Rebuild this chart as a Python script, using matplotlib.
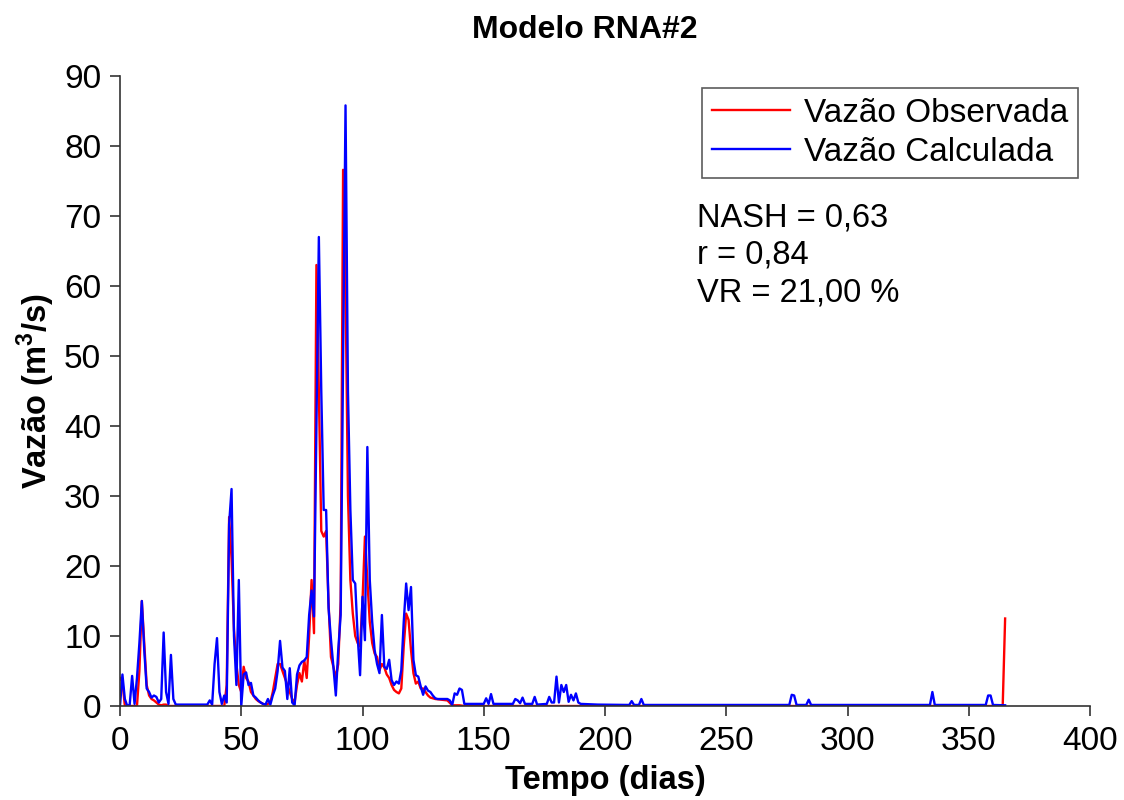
import matplotlib
matplotlib.use("Agg")
import matplotlib.pyplot as plt

plt.rcParams['font.family'] = ['Liberation Sans', 'DejaVu Sans']
plt.rcParams['mathtext.fontset'] = 'custom'
plt.rcParams['mathtext.rm'] = 'Liberation Sans'
plt.rcParams['mathtext.bf'] = 'Liberation Sans:bold'

# Observed flow (day, value)
obs_days = [0, 1, 2, 7, 8, 9, 10, 11, 12, 13, 14, 15, 16, 17, 18, 19, 20, 43, 44, 45, 46, 47, 48, 49,
            50, 51, 52, 53, 54, 55, 56, 57, 58, 59, 60, 61, 62, 63, 64, 65, 66, 67, 68, 69, 70, 71,
            72, 73, 74, 75, 76, 77, 78, 79, 80, 81, 82, 83, 84, 85, 86, 87, 88, 89, 90, 91, 92, 93,
            94, 95, 96, 97, 98, 99, 100, 101, 102, 103, 104, 105, 106, 107, 108, 109, 110, 111, 112,
            113, 114, 115, 116, 117, 118, 119, 120, 121, 122, 123, 124, 125, 126, 127, 128, 130, 135,
            137, 140, 142, 364, 365]
obs_vals = [4.0, 3.5, 0.0, 0.0, 5.0, 15.0, 9.0, 3.0, 1.5, 1.0, 0.8, 0.5, 0.2, 0.1, 0.2, 0.2, 0.0, 0.0,
            3.0, 27.0, 21.0, 10.9, 6.0, 3.0, 2.0, 5.6, 4.0, 3.5, 2.0, 1.5, 1.0, 0.7, 0.5, 0.3, 0.2,
            0.3, 0.5, 2.0, 4.0, 6.0, 6.0, 5.0, 4.0, 3.0, 2.0, 1.0, 0.5, 3.0, 4.7, 3.5, 6.5, 4.0, 10.0,
            18.0, 10.4, 63.0, 45.0, 25.0, 24.2, 25.0, 14.7, 7.0, 5.6, 4.0, 6.0, 15.0, 76.6, 60.0,
            30.0, 18.0, 13.2, 10.0, 9.0, 8.5, 15.0, 24.2, 18.0, 12.0, 9.0, 7.5, 7.0, 5.1, 6.0, 5.5,
            4.5, 4.0, 3.0, 2.3, 2.0, 1.8, 2.5, 8.5, 13.2, 12.3, 8.0, 4.7, 3.2, 3.5, 2.5, 2.5, 2.0,
            1.5, 1.2, 1.0, 0.8, 0.1, 0.1, 0.0, 0.0, 12.5]

# Calculated flow (day, value)
calc_days = [0, 1, 2, 3, 4, 5, 6, 7, 8, 9, 10, 11, 12, 13, 14, 15, 16, 17, 18, 19, 20, 21, 22, 23, 36,
             37, 38, 39, 40, 41, 42, 43, 44, 45, 46, 47, 48, 49, 50, 51, 52, 53, 54, 55, 56, 57, 58,
             59, 60, 61, 62, 63, 64, 65, 66, 67, 68, 69, 70, 71, 72, 73, 74, 75, 76, 77, 78, 79, 80,
             81, 82, 83, 84, 85, 86, 87, 88, 89, 90, 91, 92, 93, 94, 95, 96, 97, 98, 99, 100, 101,
             102, 103, 104, 105, 106, 107, 108, 109, 110, 111, 112, 113, 114, 115, 116, 117, 118, 119,
             120, 121, 122, 123, 124, 125, 126, 127, 128, 129, 130, 131, 135, 136, 137, 138, 139, 140,
             141, 142, 150, 151, 152, 153, 154, 162, 163, 164, 165, 166, 167, 170, 171, 172, 176, 177,
             178, 179, 180, 181, 182, 183, 184, 185, 186, 187, 188, 189, 190, 197, 210, 211, 212, 214,
             215, 216, 276, 277, 278, 279, 283, 284, 285, 334, 335, 336, 357, 358, 359, 360, 365]
calc_vals = [0.0, 4.5, 1.0, 0.0, 0.2, 4.3, 0.3, 4.0, 9.0, 15.0, 8.0, 2.5, 2.0, 1.2, 1.5, 1.3, 0.5, 1.0,
             10.5, 2.0, 0.3, 7.3, 1.0, 0.2, 0.2, 0.8, 0.2, 6.0, 9.7, 2.0, 0.3, 1.5, 0.5, 26.0, 31.0,
             10.0, 3.0, 18.0, 0.0, 4.5, 4.8, 3.0, 3.3, 1.5, 1.2, 0.8, 0.5, 0.3, 0.2, 1.0, 0.2, 1.5,
             2.5, 5.0, 9.3, 5.5, 5.0, 1.0, 5.4, 0.5, 0.1, 4.5, 5.8, 6.3, 6.5, 7.0, 13.0, 16.5, 12.8,
             40.0, 67.0, 45.0, 28.0, 28.0, 14.0, 9.5, 5.6, 1.5, 8.0, 13.0, 50.0, 85.8, 45.0, 28.0,
             18.0, 17.5, 10.0, 4.4, 15.6, 9.4, 37.0, 18.0, 12.0, 8.0, 6.0, 4.7, 13.0, 5.6, 5.3, 6.6,
             3.7, 3.0, 3.5, 3.2, 5.1, 12.0, 17.5, 13.7, 17.0, 6.6, 4.4, 4.2, 2.8, 1.6, 2.8, 2.2, 2.0,
             1.5, 1.1, 1.0, 1.0, 0.8, 0.15, 1.8, 1.6, 2.5, 2.3, 0.3, 0.3, 1.1, 0.3, 1.7, 0.3, 0.3,
             1.0, 0.8, 0.4, 1.2, 0.3, 0.3, 1.3, 0.2, 0.3, 1.3, 0.5, 0.5, 4.2, 0.5, 3.0, 2.0, 3.0, 0.6,
             1.6, 0.8, 1.8, 0.5, 0.3, 0.2, 0.15, 0.7, 0.15, 0.15, 1.0, 0.15, 0.15, 1.6, 1.5, 0.15,
             0.15, 0.9, 0.15, 0.15, 2.0, 0.15, 0.15, 1.5, 1.5, 0.15, 0.1]

x_ticks = [0, 50, 100, 150, 200, 250, 300, 350, 400]
y_ticks = [0, 10, 20, 30, 40, 50, 60, 70, 80, 90]
stats_lines = ["NASH = 0,63", "r = 0,84", "VR = 21,00 %"]

fig = plt.figure(figsize=(11.24, 8.0), dpi=100)
ax = fig.add_axes([120/1124, 1-706/800, (1090-120)/1124, (706-76)/800])

ax.plot(obs_days, obs_vals, color='#ff0000', lw=1.7, label='Vazão Observada')
ax.plot(calc_days, calc_vals, color='#0000ff', lw=1.7, label='Vazão Calculada')

ax.set_xlim(0, 400)
ax.set_ylim(0, 90)
ax.set_xticks(x_ticks)
ax.set_yticks(y_ticks)
ax.tick_params(direction='out', length=7.5, width=1.2, labelsize=24, color='#333333')
ax.tick_params(axis='y', pad=6)
ax.tick_params(axis='x', pad=7)
for s in ['top', 'right']:
    ax.spines[s].set_visible(False)
for s in ['left', 'bottom']:
    ax.spines[s].set_color('#333333')
    ax.spines[s].set_linewidth(1.2)

ax.set_xlabel('Tempo (dias)', fontsize=23.5, fontweight='bold', labelpad=6)
ax.set_ylabel(r'Vazão (m$^\mathbf{3}$/s)', fontsize=23.5, fontweight='bold', labelpad=5)
fig.text(585/1124, 1-30/800, 'Modelo RNA#2', fontsize=23, fontweight='bold', ha='center', va='center')

leg = ax.legend(loc='upper right', bbox_to_anchor=(1078/1124, 1-88/800), bbox_transform=fig.transFigure,
                fontsize=24, frameon=True, fancybox=False, handlelength=2.35, handletextpad=0.4,
                borderpad=0.3, labelspacing=0.23, borderaxespad=0)
leg.get_frame().set_edgecolor('#333333')
leg.get_frame().set_linewidth(1.2)

for i, t in enumerate(stats_lines):
    fig.text(697/1124, 1-(218+37.5*i)/800, t, fontsize=23.5, va='center', ha='left')

fig.savefig('out.png', dpi=100)
